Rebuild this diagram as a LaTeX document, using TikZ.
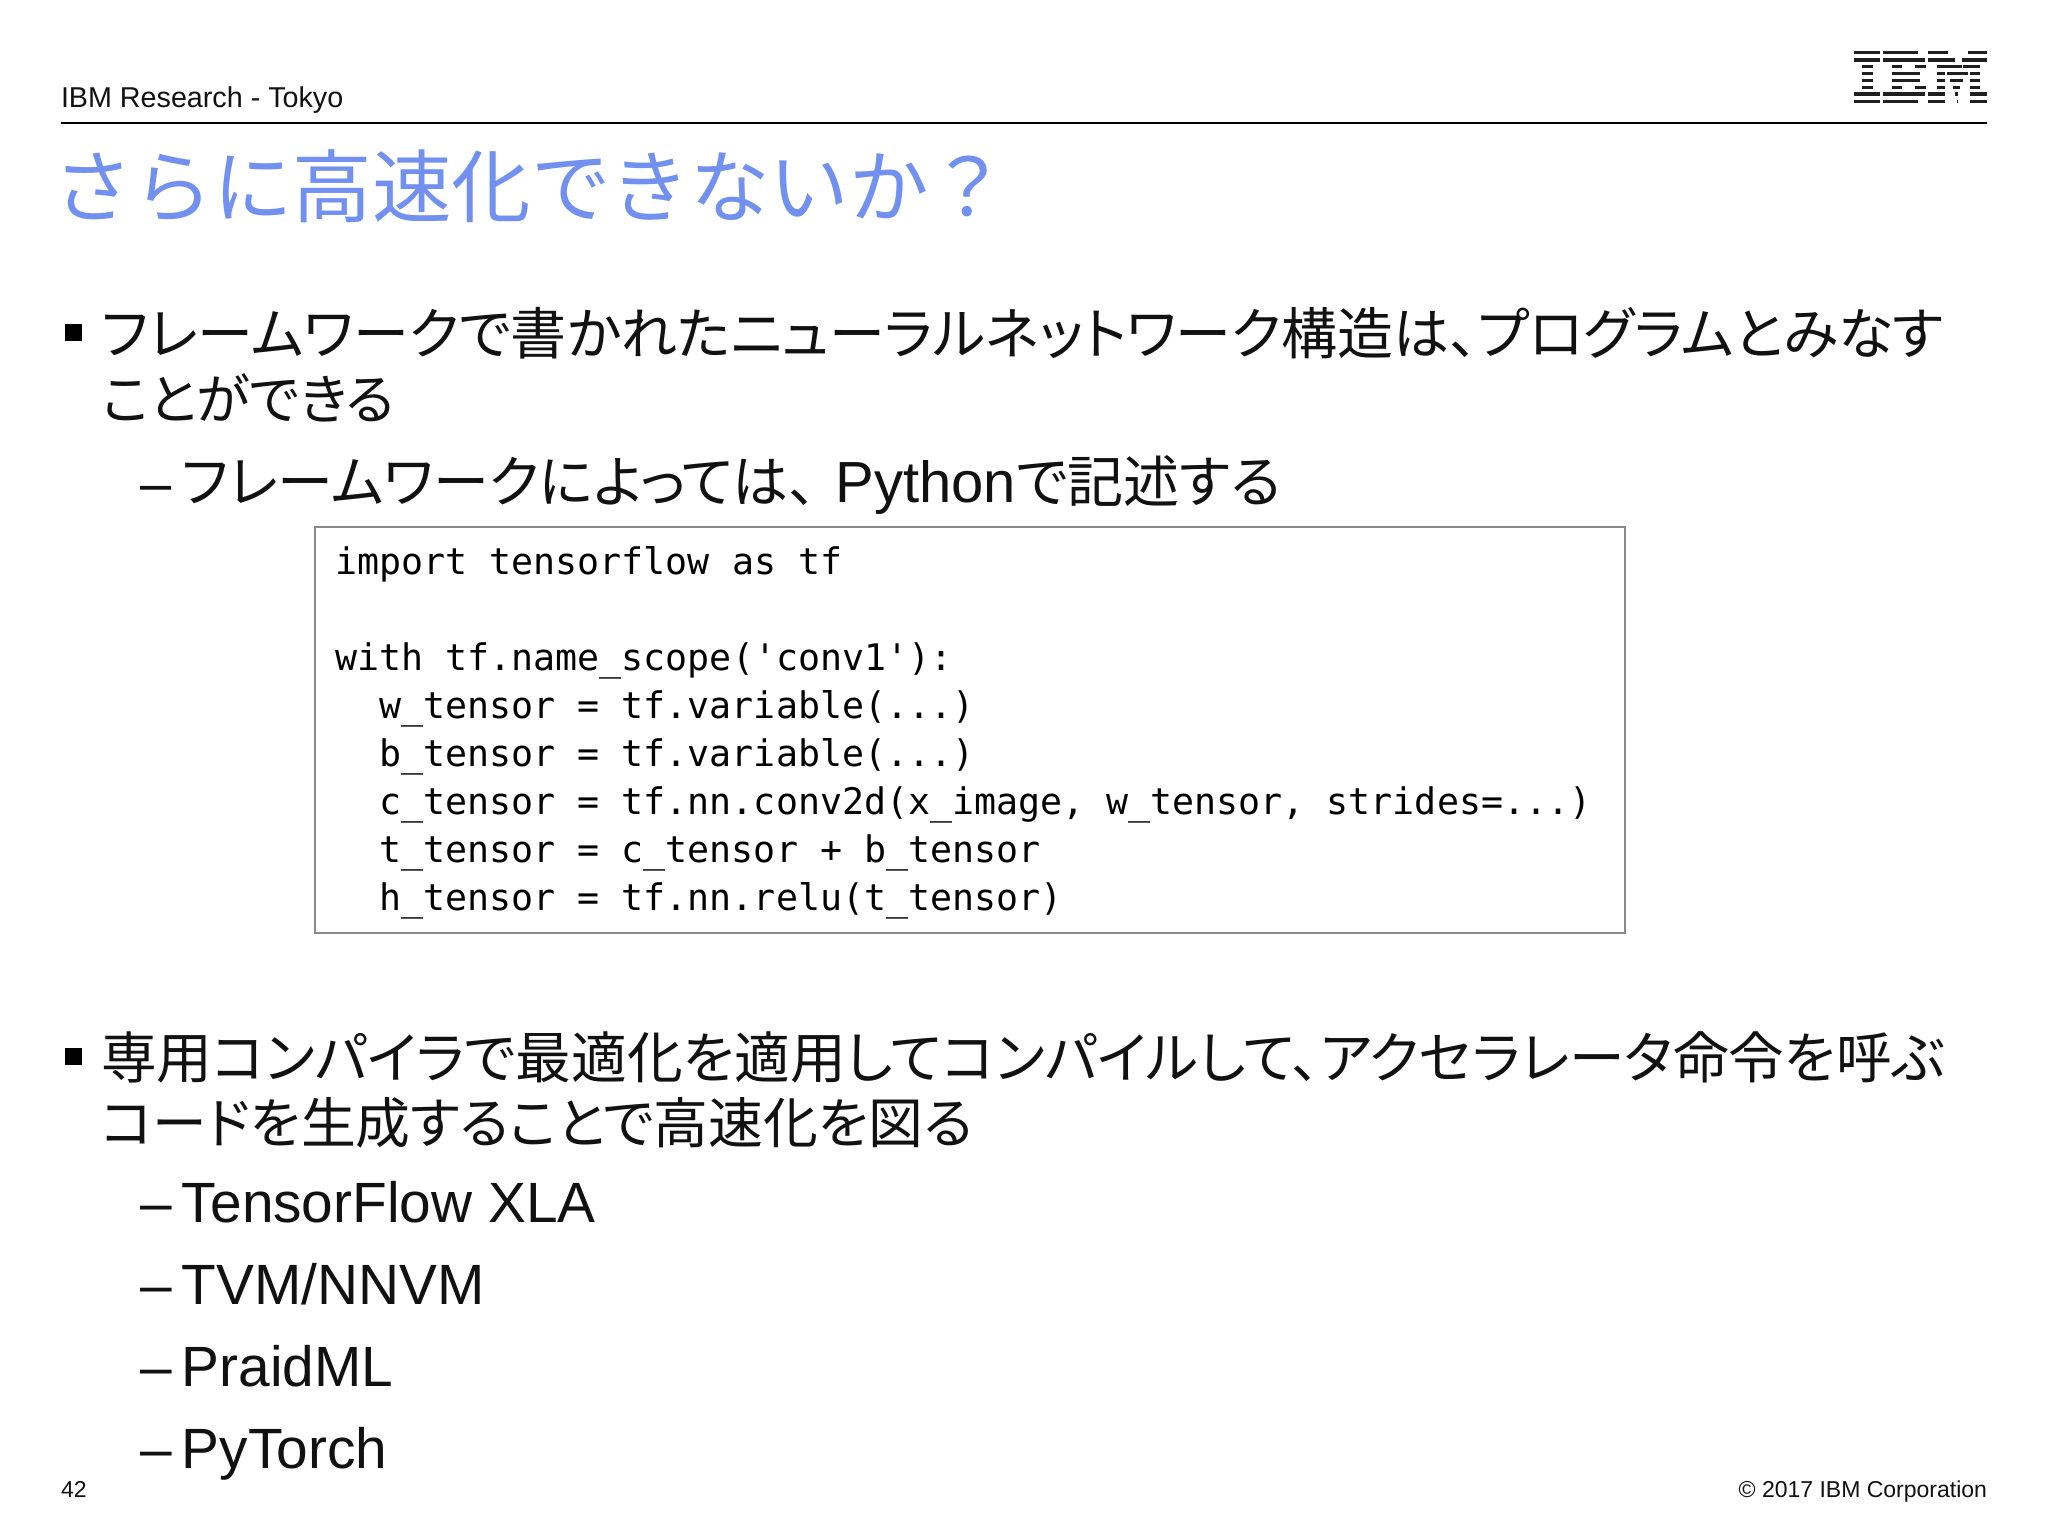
\documentclass[tikz,border=0pt]{standalone}
\usepackage{fontspec}
\setmainfont{Liberation Sans}
\newfontfamily\cjk[RawFeature=+palt]{Noto Sans CJK JP}
\newfontfamily\cjkfull{Noto Sans CJK JP}
\newfontfamily\codefont{DejaVu Sans Mono}
\definecolor{titleblue}{HTML}{7290F0}
\definecolor{boxgray}{HTML}{8A8A8A}
\definecolor{ink}{HTML}{111111}
\tikzset{
  txt/.style={anchor=base west,inner sep=0pt,outer sep=0pt,text=ink,font=\fontsize{28}{34}\selectfont},
  lat/.style={txt,font=\fontsize{28.4}{34}\selectfont},
  jpsmall/.style={txt,font=\fontsize{27.4}{34}\selectfont},
  small/.style={txt,font=\fontsize{14.35}{18}\selectfont},
  foot/.style={txt,font=\fontsize{11.5}{14}\selectfont},
  bul/.style={fill=black,draw=none,minimum width=8.5pt,minimum height=8.5pt,inner sep=0pt,anchor=north west},
}
\newcommand{\dashlabel}[1]{\makebox[21pt][l]{–}#1}
\begin{document}
\begin{tikzpicture}[x=0.5pt,y=-0.5pt]
\useasboundingbox (0,0) rectangle (2048,1536);
\fill[white] (0,0) rectangle (2048,1536);
\node[small] (hdr) at (61,107) {IBM Research - Tokyo};
\coordinate (rl) at (61,123); \coordinate (rr) at (1987,123);
\draw[line width=1pt,black] (rl) -- (rr);
% logo
\begin{scope}[shift={(1800,30)},x=0.1667pt,y=-0.1667pt]
\foreach \ya/\yb/\segs in {
 62/72/{163/240,250/355,385/445,505/562},
 85/96/{163/240,250/375,385/465,487/562},
 105/115/{187/218,275/305,345/378,410/485,490/540},
 125/135/{187/218,275/360,410/435,440/505,510/540},
 146/156/{187/218,275/360,410/435,450/490,510/540},
 167/177/{187/218,275/305,345/378,410/435,460/480,510/540},
 187/197/{163/240,250/375,385/435,465/475,510/562},
 209/220/{163/240,250/355,385/435,470/473,510/562}}{
  \foreach \xa/\xb in \segs { \fill[black!88] (\xa,\ya) rectangle (\xb,\yb); }
}
\end{scope}
\node[txt,text=titleblue,font=\fontsize{39.75}{46}\selectfont\cjkfull] (title) at (54,216) {さらに高速化できないか？};
\node[bul] (b1) at (65,324) {};
\node[txt] (l1) at (102,354) {\cjk フレームワークで書かれたニューラルネットワーク構造は、プログラムとみなす};
\node[txt,font=\fontsize{27.1}{34}\selectfont] (l2) at (102,419) {\cjk ことができる};
\node[txt] (l3) at (140,502) {\dashlabel{{\cjk フレームワークによっては、}\hspace{9.5pt}{\fontsize{29}{34}\selectfont Python}{\cjk で記述する}}};
\node[draw=boxgray,line width=1pt,anchor=north west,minimum width=655pt,minimum height=203pt,inner sep=0pt,
      text width=634.6pt,align=left,inner xsep=10.2pt] (code) at (314,526)
 {\fontsize{18.3}{24}\codefont\selectfont\frenchspacing\spaceskip=11.02pt\relax
 import tensorflow as tf\\
 \mbox{}\\
 with tf.name\_scope('conv1'):\\
 \hspace*{22pt}w\_tensor = tf.variable(...)\\
 \hspace*{22pt}b\_tensor = tf.variable(...)\\
 \hspace*{22pt}c\_tensor = tf.nn.conv2d(x\_image, w\_tensor, strides=...)\\
 \hspace*{22pt}t\_tensor = c\_tensor + b\_tensor\\
 \hspace*{22pt}\raisebox{0pt}[\height][\dimexpr\depth-2.6pt\relax]{h\_tensor = tf.nn.relu(t\_tensor)}\par};
\node[bul] (b2) at (65,1048) {};
\node[txt,font=\fontsize{27.85}{34}\selectfont] (l4) at (101,1078) {\cjk 専用コンパイラで最適化を適用してコンパイルして、アクセラレータ命令を呼ぶ};
\node[jpsmall] (l5) at (101,1143) {\cjk コードを生成することで高速化を図る};
\node[lat] (l6) at (140,1222) {\dashlabel{TensorFlow XLA}};
\node[lat] (l7) at (140,1304) {\dashlabel{TVM/NNVM}};
\node[lat] (l8) at (140,1386) {\dashlabel{PraidML}};
\node[lat] (l9) at (140,1468) {\dashlabel{PyTorch}};
\node[foot] (pg) at (61,1497) {42};
\node[foot,anchor=base east] (copy) at (1987,1497) {© 2017 IBM Corporation};
\end{tikzpicture}
\end{document}
